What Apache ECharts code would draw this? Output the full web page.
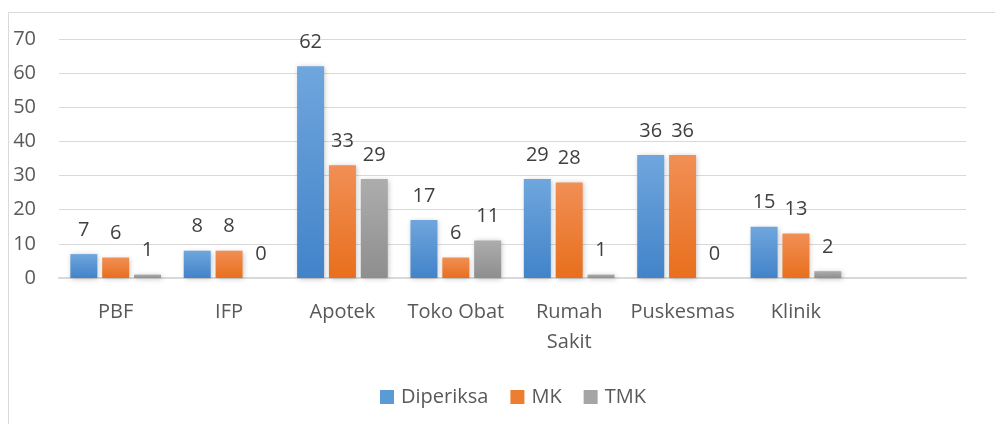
<!DOCTYPE html>
<html><head><meta charset="utf-8">
<script src="https://cdn.jsdelivr.net/npm/echarts@6/dist/echarts.min.js"></script>
<style>html,body{margin:0;padding:0;background:#fff}#c{width:995px;height:424px}</style>
</head><body><div id="c"></div>
<script>
var categories = ['PBF', 'IFP', 'Apotek', 'Toko Obat', 'Rumah\nSakit', 'Puskesmas', 'Klinik', ''];
var diperiksa = [7, 8, 62, 17, 29, 36, 15, null];
var mk = [6, 8, 33, 6, 28, 36, 13, null];
var tmk = [1, 0, 29, 11, 1, 0, 2, null];
var yTicks = [0, 10, 20, 30, 40, 50, 60, 70];

var FONT = '"Open Sans", sans-serif';
function grad(a, b) {
  return new echarts.graphic.LinearGradient(0, 0, 0, 1, [{offset: 0, color: a}, {offset: 1, color: b}]);
}
function ser(name, data, c1, c2) {
  return {
    name: name, type: 'bar', data: data,
    barCategoryGap: '20%', barGap: '18%',
    itemStyle: {color: grad(c1, c2), shadowColor: 'rgba(0,0,0,0.25)', shadowBlur: 5, shadowOffsetX: 1, shadowOffsetY: 1},
    label: {show: true, position: 'top', distance: 14, color: '#404040', fontSize: 20, fontFamily: FONT},
    emphasis: {disabled: true}
  };
}
var chart = echarts.init(document.getElementById('c'), null, {renderer: 'canvas'});
chart.setOption({
  animation: false,
  color: ['#5B9BD5', '#ED7D31', '#A5A5A5'],
  graphic: [{type: 'rect', shape: {x: 8.5, y: 12.5, width: 1000, height: 430}, style: {fill: 'none', stroke: '#D9D9D9', lineWidth: 1}}],
  grid: {left: 59, right: 29, top: 39, bottom: 146, containLabel: false},
  legend: {
    top: 382, left: 375, itemWidth: 14, itemHeight: 14, itemGap: 22,
    icon: 'rect',
    textStyle: {color: '#595959', fontSize: 20, fontFamily: FONT, padding: [0, 0, 0, 2]},
    data: [
      {name: 'Diperiksa', itemStyle: {color: '#5B9BD5'}},
      {name: 'MK', itemStyle: {color: '#ED7D31'}},
      {name: 'TMK', itemStyle: {color: '#A5A5A5'}}
    ]
  },
  xAxis: {
    type: 'category', data: categories,
    axisLine: {show: true, lineStyle: {color: '#D9D9D9', width: 2}},
    axisTick: {show: false},
    axisLabel: {color: '#595959', fontSize: 20, fontFamily: FONT, margin: 19, lineHeight: 30, interval: 0}
  },
  yAxis: {
    type: 'value', min: yTicks[0], max: yTicks[yTicks.length - 1], interval: 10,
    axisLine: {show: false}, axisTick: {show: false},
    splitLine: {lineStyle: {color: '#D9D9D9', width: 1}},
    axisLabel: {color: '#595959', fontSize: 20, fontFamily: FONT, margin: 23, align: 'right'}
  },
  series: [
    ser('Diperiksa', diperiksa, '#6FA6DD', '#4283C9'),
    ser('MK', mk, '#F18F55', '#E86F1D'),
    ser('TMK', tmk, '#ADADAD', '#8E8E8E')
  ]
});
</script></body></html>
